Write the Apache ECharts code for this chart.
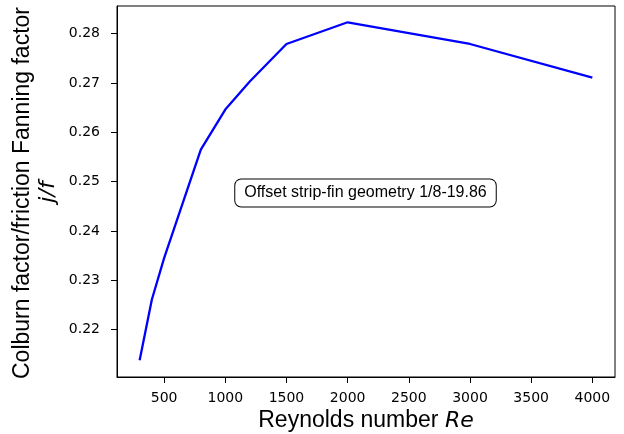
<!DOCTYPE html>
<html>
<head>
<meta charset="utf-8">
<script src="https://cdn.jsdelivr.net/npm/echarts@6/dist/echarts.min.js"></script>
<style>html,body{margin:0;padding:0;background:#fff;}#c{width:624px;height:434px;}</style>
</head>
<body>
<div id="c"></div>
<script>
const reynolds = [300, 400, 500, 800, 1000, 1200, 1500, 2000, 3000, 4000];
const jOverF = [0.2138, 0.2261, 0.2345, 0.2565, 0.2646, 0.2703, 0.2779, 0.2823, 0.2779, 0.2711];
const xTicks = [500, 1000, 1500, 2000, 2500, 3000, 3500, 4000];
const yTicks = [0.22, 0.23, 0.24, 0.25, 0.26, 0.27, 0.28];
const annotation = 'Offset strip-fin geometry 1/8-19.86';
const xTitle = 'Reynolds number {i|Re}';
const yTitle1 = 'Colburn factor/friction Fanning factor';
const yTitle2 = '{i|j/f}';

const chart = echarts.init(document.getElementById('c'), null, {renderer: 'canvas'});
const tickFont = {fontFamily: 'DejaVu Sans', fontSize: 14, color: '#000'};
const italic = {i: {fontFamily: 'DejaVu Sans', fontStyle: 'italic', fontSize: 22, fill: '#000'}};
chart.setOption({
  animation: false,
  backgroundColor: '#fff',
  grid: {left: 117, right: 9, top: 6, bottom: 57, show: true, borderColor: '#000', borderWidth: 1,
    containLabel: false, outerBoundsMode: 'none'},
  xAxis: {
    type: 'value', min: 115, max: 4185,
    axisLine: {show: true, lineStyle: {color: '#000', width: 1}},
    axisTick: {show: true, length: 6, inside: false, customValues: xTicks, lineStyle: {color: '#000'}},
    axisLabel: Object.assign({margin: 14, customValues: xTicks, formatter: v => String(v)}, tickFont),
    splitLine: {show: false}
  },
  yAxis: {
    type: 'value', min: 0.2104, max: 0.2856,
    axisLine: {show: true, lineStyle: {color: '#000', width: 1}},
    axisTick: {show: true, length: 6, inside: false, customValues: yTicks, lineStyle: {color: '#000'}},
    axisLabel: Object.assign({margin: 17, customValues: yTicks, formatter: v => v.toFixed(2)}, tickFont),
    splitLine: {show: false}
  },
  series: [{
    type: 'line',
    data: reynolds.map((r, i) => [r, jOverF[i]]),
    showSymbol: false,
    lineStyle: {color: '#0000ff', width: 2.3},
    itemStyle: {color: '#0000ff'}
  }],
  graphic: [{
    type: 'text', x: 365.5, y: 193,
    style: {
      text: annotation, fill: '#000', fontFamily: 'Liberation Sans', fontSize: 16,
      align: 'center', verticalAlign: 'middle',
      backgroundColor: '#fff', borderColor: '#000', borderWidth: 1, borderRadius: 6,
      padding: [6, 9, 5, 9]
    }
  }, {
    type: 'text', x: 366, y: 421,
    style: {text: xTitle, fill: '#000', fontFamily: 'Liberation Sans', fontSize: 23,
      align: 'center', verticalAlign: 'middle', rich: italic}
  }, {
    type: 'text', x: 22.5, y: 193, rotation: Math.PI / 2,
    style: {text: yTitle1, fill: '#000', fontFamily: 'Liberation Sans', fontSize: 23,
      align: 'center', verticalAlign: 'middle'}
  }, {
    type: 'text', x: 48, y: 192, rotation: Math.PI / 2,
    style: {text: yTitle2, fill: '#000', fontFamily: 'Liberation Sans', fontSize: 22,
      align: 'center', verticalAlign: 'middle', rich: italic}
  }]
});
</script>
</body>
</html>
